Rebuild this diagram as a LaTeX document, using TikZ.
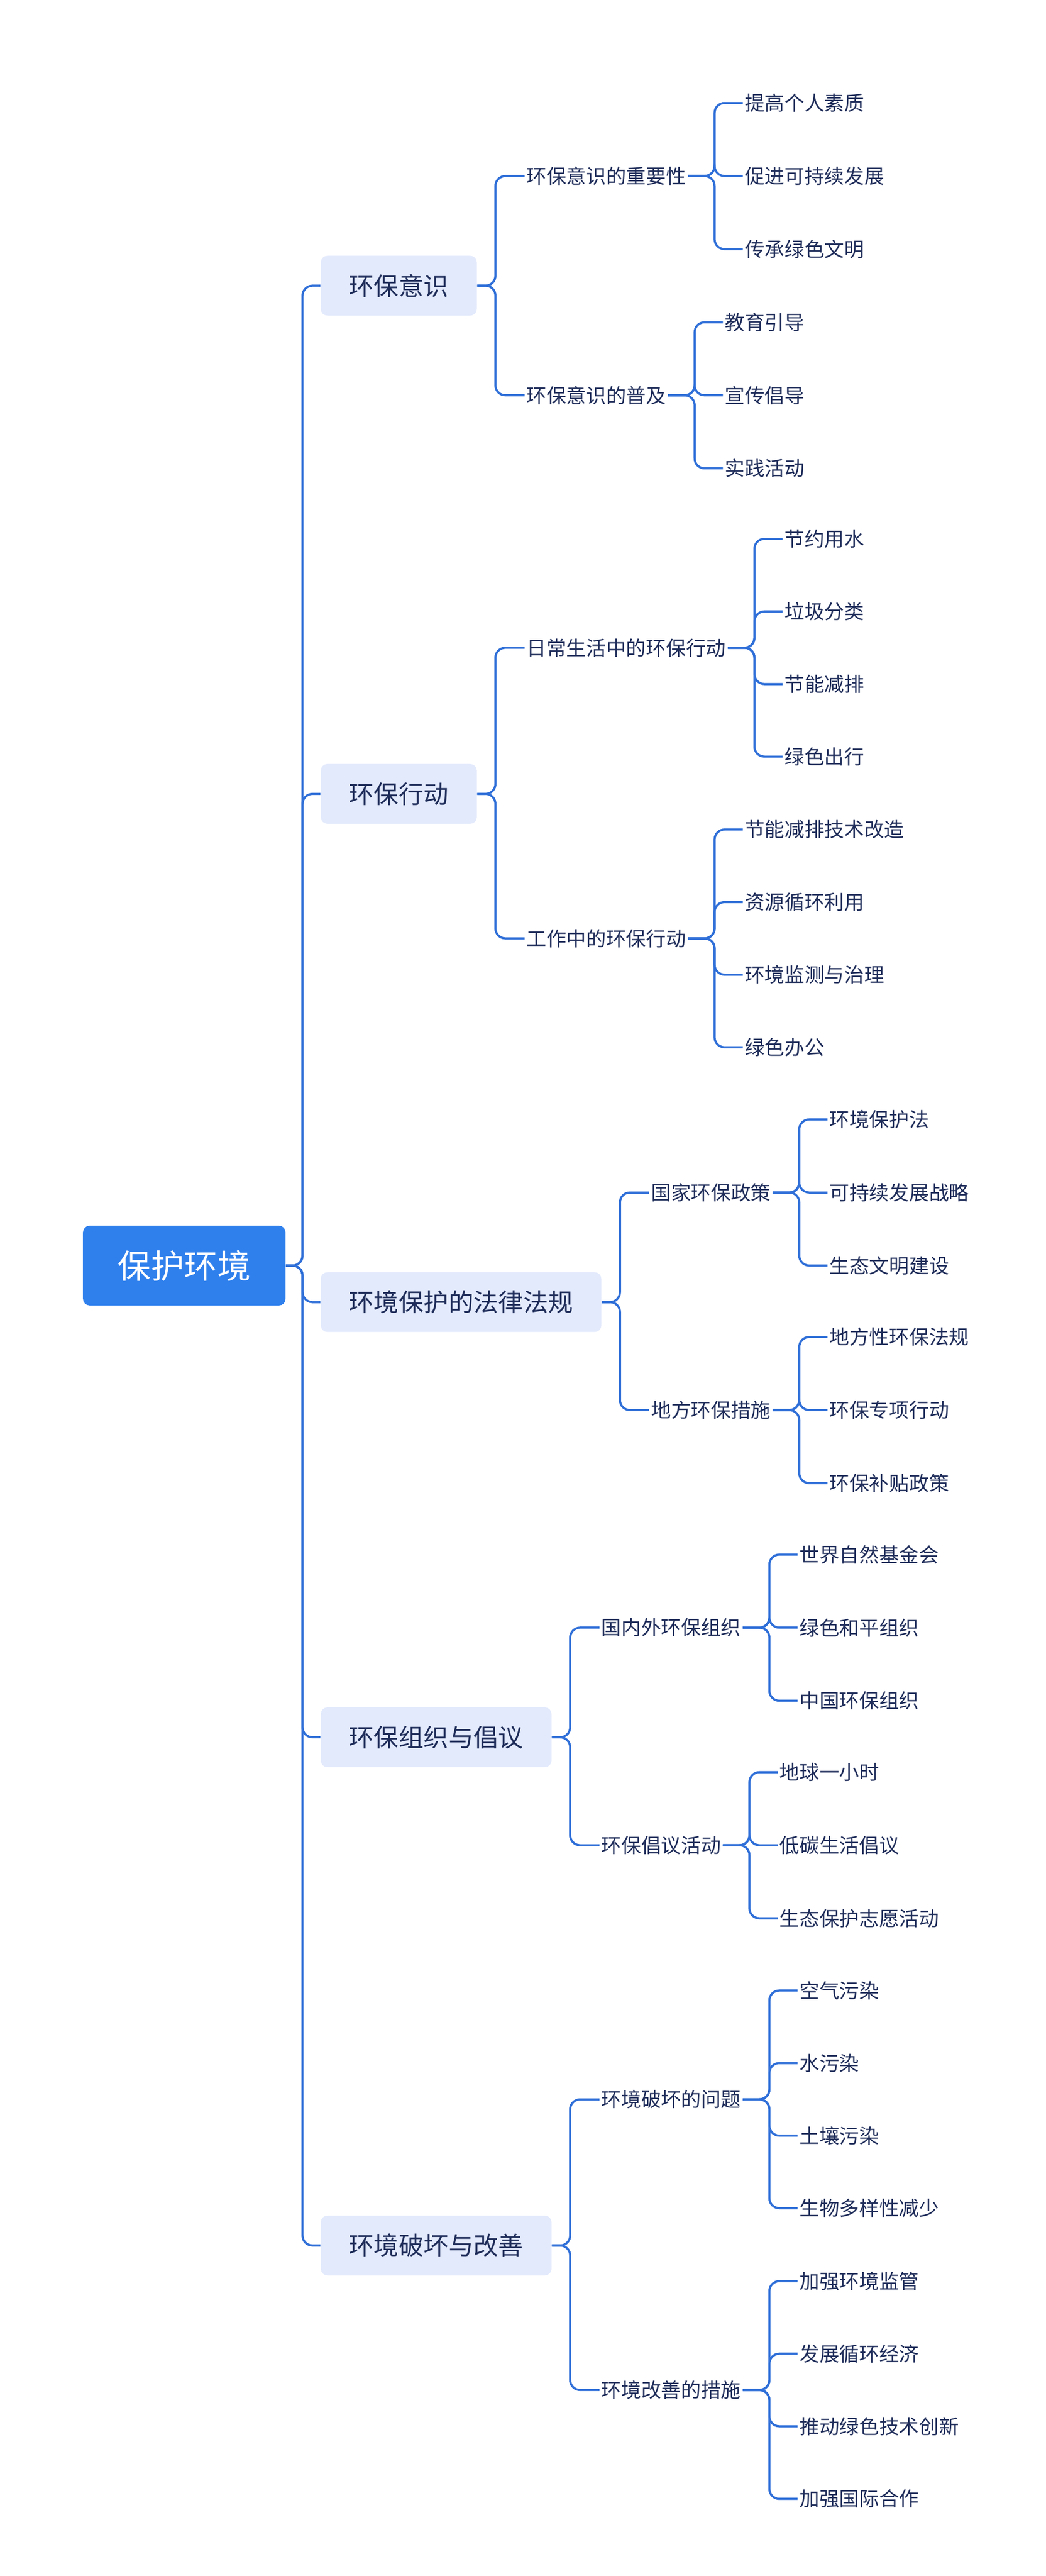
\documentclass[tikz,border=0pt]{standalone}
\usepackage{fontspec}
\setmainfont{Noto Sans CJK SC}
\definecolor{linkblue}{HTML}{2F6FD8}
\definecolor{inkblue}{HTML}{1F2D5A}
\definecolor{rootblue}{HTML}{2F80ED}
\definecolor{topicfill}{HTML}{E3EAFC}

\begin{document}
\begin{tikzpicture}[
    x=1pt, y=-1pt,
    root/.style={rectangle, rounded corners=4pt, fill=rootblue, text=white, font=\fontsize{20}{24}\selectfont, minimum width=122pt, minimum height=48pt},
    topic/.style={rectangle, rounded corners=4pt, fill=topicfill, text=inkblue, font=\fontsize{15}{18}\selectfont, inner xsep=17pt, minimum height=36pt, anchor=west},
    sub/.style={text=inkblue, font=\fontsize{12}{14}\selectfont, inner sep=1pt, anchor=west},
    leaf/.style={text=inkblue, font=\fontsize{12}{14}\selectfont, inner sep=1pt, anchor=west},
    link/.style={draw=linkblue, line width=1.3pt, rounded corners=6pt}
]
\useasboundingbox (0,0) rectangle (630,1551);

% Root
\node[root] (env) at (111,762) {保护环境};

% Main topics
\node[topic] (aware) at (193,172) {环保意识};
\node[topic] (action) at (193,478) {环保行动};
\node[topic] (law) at (193,784) {环境保护的法律法规};
\node[topic] (org) at (193,1046) {环保组织与倡议};
\node[topic] (damage) at (193,1352) {环境破坏与改善};

\foreach \t in {aware, action, law, org, damage}
    \draw[link] (env.east) -- ++(10,0) |- (\t.west);

% Sub topics
\node[sub] (aware1) at (316,106) {环保意识的重要性};
\node[sub] (aware2) at (316,238) {环保意识的普及};
\node[sub] (action1) at (316,390) {日常生活中的环保行动};
\node[sub] (action2) at (316,565) {工作中的环保行动};
\node[sub] (law1) at (391,718) {国家环保政策};
\node[sub] (law2) at (391,849) {地方环保措施};
\node[sub] (org1) at (361,980) {国内外环保组织};
\node[sub] (org2) at (361,1111) {环保倡议活动};
\node[sub] (damage1) at (361,1264) {环境破坏的问题};
\node[sub] (damage2) at (361,1439) {环境改善的措施};

\foreach \p in {aware, action, law, org, damage} {
    \draw[link] (\p.east) -- ++(11,0) |- (\p1.west);
    \draw[link] (\p.east) -- ++(11,0) |- (\p2.west);
}

% Leaves, three per branch
\foreach \p/\list in {
    aware1/{提高个人素质,促进可持续发展,传承绿色文明},
    aware2/{教育引导,宣传倡导,实践活动},
    law1/{环境保护法,可持续发展战略,生态文明建设},
    law2/{地方性环保法规,环保专项行动,环保补贴政策},
    org1/{世界自然基金会,绿色和平组织,中国环保组织},
    org2/{地球一小时,低碳生活倡议,生态保护志愿活动}} {
    \foreach \t [count=\i] in \list {
        \pgfmathsetmacro\dy{(\i-2)*44}
        \node[leaf] (\p-\i) at ([shift={(33,\dy)}]\p.east) {\t};
        \draw[link] (\p.east) -- ++(16,0) |- (\p-\i.west);
    }
}

% Leaves, four per branch
\foreach \p/\list in {
    action1/{节约用水,垃圾分类,节能减排,绿色出行},
    action2/{节能减排技术改造,资源循环利用,环境监测与治理,绿色办公},
    damage1/{空气污染,水污染,土壤污染,生物多样性减少},
    damage2/{加强环境监管,发展循环经济,推动绿色技术创新,加强国际合作}} {
    \foreach \t [count=\i] in \list {
        \pgfmathsetmacro\dy{(\i-2.5)*43.7}
        \node[leaf] (\p-\i) at ([shift={(33,\dy)}]\p.east) {\t};
        \draw[link] (\p.east) -- ++(16,0) |- (\p-\i.west);
    }
}

\end{tikzpicture}
\end{document}
